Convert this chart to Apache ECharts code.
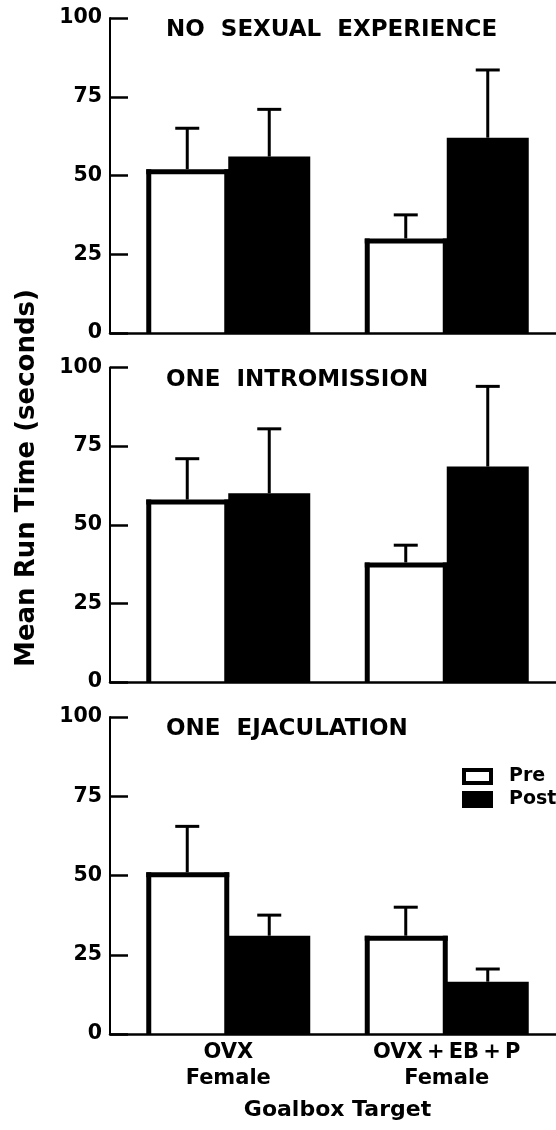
<!DOCTYPE html>
<html>
<head>
<meta charset="utf-8">
<script src="https://cdn.jsdelivr.net/npm/echarts@6/dist/echarts.min.js"></script>
<style>
  html, body { margin: 0; padding: 0; background: #fff; }
  #chart { width: 556px; height: 1130px; }
</style>
</head>
<body>
<div id="chart"></div>
<script>
// Goalbox targets (x categories)
const groups = ['OVX\nFemale', 'OVX\u2009+\u2009EB\u2009+\u2009P\nFemale'];
// One panel per level of sexual experience
const panelTitles = ['NO  SEXUAL  EXPERIENCE', 'ONE  INTROMISSION', 'ONE  EJACULATION'];
// Mean run time (s) per panel, per goalbox target
const preMean  = [[52, 30], [58, 38], [51, 31]];
const postMean = [[56, 62], [60, 68.5], [31, 16.5]];
// Standard error of the mean (upper whisker length, s)
const preSem   = [[13, 7.5], [13, 5.5], [14.5, 9]];
const postSem  = [[15, 21.5], [20.5, 25.5], [6.5, 4]];
// Value axis ticks
const yTicks = [0, 25, 50, 75, 100];

const FONT = "'DejaVu Sans', sans-serif";
const BAR_W = 82;
const CAP_HALF = 12;
const OUTLINE = 5;
const panelTop = [18, 367.5, 717];
const panelHeight = [315, 314.5, 317];
const AXIS_LEFT = 110;
const DATA_LEFT = 119;
const DATA_WIDTH = 440;

const grid = [], xAxis = [], yAxis = [], series = [], title = [];

// upward SEM whisker with a cap, centred on one bar of the pair
function whiskerItem(offset) {
  return function (params, api) {
    const base = api.coord([api.value(0), api.value(1)]);
    const top = api.coord([api.value(0), api.value(2)]);
    const x = base[0] + offset;
    const style = { stroke: '#000', lineWidth: 3, lineCap: 'butt' };
    return {
      type: 'group',
      children: [
        { type: 'line', shape: { x1: x, y1: base[1], x2: x, y2: top[1] }, style },
        { type: 'line', shape: { x1: x - CAP_HALF, y1: top[1], x2: x + CAP_HALF, y2: top[1] }, style }
      ]
    };
  };
}

// open outline (left, top, right sides) of the white "Pre" bar;
// the right side laps 1px onto the neighbouring black bar so no seam shows
function outlineItem(params, api) {
  const base = api.coord([api.value(0), 0]);
  const top = api.coord([api.value(0), api.value(1)]);
  const xc = base[0] - BAR_W / 2;
  const h = OUTLINE / 2;
  const xl = xc - BAR_W / 2 + h, xr = xc + BAR_W / 2 - h + 1, yt = top[1] + h, yb = base[1] - h;
  const style = { stroke: '#000', lineWidth: OUTLINE, lineCap: 'square' };
  return {
    type: 'group',
    children: [
      { type: 'line', shape: { x1: xl, y1: yb, x2: xl, y2: yt }, style },
      { type: 'line', shape: { x1: xl, y1: yt, x2: xr, y2: yt }, style },
      { type: 'line', shape: { x1: xr, y1: yt, x2: xr, y2: yb }, style }
    ]
  };
}

panelTitles.forEach((name, i) => {
  const top = panelTop[i], height = panelHeight[i];
  const last = i === panelTitles.length - 1;

  // frame grid: value axis with inward ticks and the long baseline
  grid.push({ left: AXIS_LEFT, top, height, width: 470 });
  // bar grid: the two goalbox groups
  grid.push({ left: DATA_LEFT, top, height, width: DATA_WIDTH });

  xAxis.push({
    gridIndex: 2 * i, type: 'value', min: 0, max: 1, z: 6,
    axisLine: { show: true, lineStyle: { color: '#000', width: 2.5 } },
    axisTick: { show: false }, axisLabel: { show: false }, splitLine: { show: false }
  });
  xAxis.push({
    gridIndex: 2 * i + 1, type: 'category', data: groups,
    axisLine: { show: false }, axisTick: { show: false },
    axisLabel: {
      show: last, interval: 0, margin: 6,
      fontFamily: FONT, fontWeight: 'bold', fontSize: 21, lineHeight: 26, color: '#000'
    },
    name: last ? 'Goalbox Target' : '',
    nameLocation: 'middle', nameGap: 65,
    nameTextStyle: { fontFamily: FONT, fontWeight: 'bold', fontSize: 22, color: '#000' }
  });

  yAxis.push({
    gridIndex: 2 * i, type: 'value', min: yTicks[0], max: yTicks[yTicks.length - 1],
    interval: yTicks[1] - yTicks[0], z: 6,
    axisLine: { show: true, lineStyle: { color: '#000', width: 2 } },
    axisTick: { show: true, inside: true, length: 18, lineStyle: { color: '#000', width: 2.5 } },
    axisLabel: { margin: 8, fontFamily: FONT, fontWeight: 'bold', fontSize: 20.5, color: '#000' },
    splitLine: { show: false }
  });
  yAxis.push({
    gridIndex: 2 * i + 1, type: 'value', min: yTicks[0], max: yTicks[yTicks.length - 1], show: false
  });

  title.push({
    text: name, left: 166, top: top + 1, padding: 0,
    textStyle: { fontFamily: FONT, fontWeight: 'bold', fontSize: 23, color: '#000' }
  });

  series.push({
    name: 'Pre', type: 'bar', xAxisIndex: 2 * i + 1, yAxisIndex: 2 * i + 1,
    data: preMean[i], barWidth: BAR_W, barGap: '0%',
    itemStyle: { color: '#fff' }, z: 2
  });
  series.push({
    name: 'Post', type: 'bar', xAxisIndex: 2 * i + 1, yAxisIndex: 2 * i + 1,
    data: postMean[i], barWidth: BAR_W, barGap: '0%',
    itemStyle: { color: '#000' }, z: 3
  });
  series.push({
    type: 'custom', xAxisIndex: 2 * i + 1, yAxisIndex: 2 * i + 1, z: 4,
    renderItem: outlineItem,
    data: preMean[i].map((m, k) => [k, m])
  });
  series.push({
    type: 'custom', xAxisIndex: 2 * i + 1, yAxisIndex: 2 * i + 1, z: 5,
    renderItem: whiskerItem(-BAR_W / 2),
    data: preMean[i].map((m, k) => [k, m, m + preSem[i][k]])
  });
  series.push({
    type: 'custom', xAxisIndex: 2 * i + 1, yAxisIndex: 2 * i + 1, z: 5,
    renderItem: whiskerItem(BAR_W / 2),
    data: postMean[i].map((m, k) => [k, m, m + postSem[i][k]])
  });
});

const chart = echarts.init(document.getElementById('chart'), null, { renderer: 'canvas' });
chart.setOption({
  animation: false,
  backgroundColor: '#fff',
  title,
  grid, xAxis, yAxis, series,
  legend: {
    orient: 'vertical', left: 462, top: 767, padding: 0,
    itemWidth: 27, itemHeight: 13, itemGap: 4, selectedMode: false,
    icon: 'rect',
    textStyle: { fontFamily: FONT, fontWeight: 'bold', fontSize: 19, color: '#000', padding: [0, 0, 0, 13] },
    data: [
      { name: 'Pre', itemStyle: { color: '#fff', borderColor: '#000', borderWidth: 4 } },
      { name: 'Post', itemStyle: { color: '#000', borderColor: '#000', borderWidth: 4 } }
    ]
  },
  graphic: [{
    type: 'text', x: 27, y: 478, rotation: Math.PI / 2,
    style: {
      text: 'Mean Run Time (seconds)', fill: '#000',
      font: "bold 26px 'DejaVu Sans', sans-serif",
      align: 'center', verticalAlign: 'middle'
    }
  }]
});
</script>
</body>
</html>
